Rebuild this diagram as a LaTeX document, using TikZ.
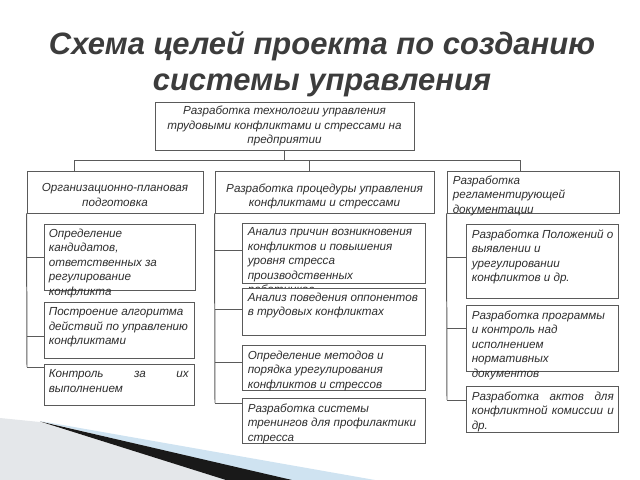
\documentclass[tikz,border=0pt]{standalone}
\usepackage{fontspec}
\setmainfont{Liberation Sans}
\usetikzlibrary{fit}
\definecolor{linec}{HTML}{5A5A5A}
\definecolor{textc}{HTML}{2E2E2E}
\definecolor{titlec}{HTML}{3C3C3C}
\definecolor{swblue}{HTML}{CFE3F1}
\definecolor{swgray}{HTML}{E4E7EA}
\tikzset{
  box/.style={draw=linec, line width=0.7pt, fill=white, inner sep=0pt},
  txt/.style={font=\fontsize{8.3}{10.3}\selectfont\itshape, text=textc, inner sep=0pt},
  conn/.style={draw=linec, line width=0.7pt},
  ttl/.style={font=\fontsize{22}{23}\selectfont\bfseries\itshape, text=titlec, inner sep=0pt, align=center}
}
\begin{document}
\begin{tikzpicture}[x=0.025cm, y=-0.025cm]
\useasboundingbox (0,0) rectangle (640,480);
% decoration
\fill[swgray] (0,418) -- (40,422) -- (228,480) -- (0,480) -- cycle;
\fill[swblue] (40,421) -- (375,480) -- (288,480) -- cycle;
\fill[black!90] (40,421.5) -- (292,480) -- (226,480) -- cycle;
% title
\node[ttl] (title) at (322,64) {Схема целей проекта по созданию\\[3pt]системы управления};
% top
\node[box, fit={(155,102) (414,150)}] (T) {};
\node[txt, align=center] (Tt) at (T.center) {Разработка технологии управления\\трудовыми конфликтами и стрессами на\\предприятии};
% level 2
\node[box, fit={(27,171) (203,213)}] (A2) {};
\node[txt, align=center] (A2t) at ([yshift=-2]A2.center) {Организационно-плановая\\подготовка};
\node[box, fit={(215,171) (434,213)}] (B2) {};
\node[txt, align=center] (B2t) at ([yshift=-3]B2.center) {Разработка процедуры управления\\конфликтами и стрессами};
\node[box, fit={(447,171) (619,213)}] (C2) {};
\node[txt, align=left, anchor=north west] (C2t) at ([shift={(6,5)}]C2.north west) {Разработка\\регламентирующей\\документации};
% connectors top
\coordinate (hL) at (74,160);
\coordinate (hM) at (309,160);
\coordinate (hR) at (520,160);
\draw[conn] (T.south) -- (T.south |- hL);
\draw[conn] (A2.north -| hL) -- (hL) -- (hR) -- (C2.north -| hR);
\draw[conn] (hM) -- (B2.north -| hM);
% left column
\draw[conn] (A2.south west) -- (27,367);
\draw[conn] (27,257) -- (44,257);
\draw[conn] (27,336) -- (44,336);
\draw[conn] (27,367) -- (44,367);
\node[box, fit={(44,224) (195,290)}] (LA) {};
\node[txt, align=left, anchor=north west] (LAt) at ([shift={(5,5)}]LA.north west) {Определение\\кандидатов,\\ответственных за\\регулирование\\конфликта};
\node[box, fit={(44,302) (194,358)}] (LB) {};
\node[txt, align=left, anchor=north west] (LBt) at ([shift={(5,6)}]LB.north west) {Построение алгоритма\\действий по управлению\\конфликтами};
\node[box, fit={(44,364) (194,405)}] (LC) {};
\node[txt, align=left, anchor=north west, text width=3.5cm] (LCt) at ([shift={(5,6)}]LC.north west) {Контроль\hfill за\hfill их\\выполнением};
% middle column
\draw[conn] (B2.south west) -- (215,403);
\draw[conn] (215,250) -- (242,250);
\draw[conn] (215,309) -- (242,309);
\draw[conn] (215,362) -- (242,362);
\draw[conn] (215,403) -- (242,403);
\node[box, fit={(242,223) (425,283)}] (MA) {};
\node[txt, align=left, anchor=north west] (MAt) at ([shift={(6,5)}]MA.north west) {Анализ причин возникновения\\конфликтов и повышения\\уровня стресса\\производственных\\работников};
\node[box, fit={(242,288) (425,335)}] (MB) {};
\node[txt, align=left, anchor=north west] (MBt) at ([shift={(6,5)}]MB.north west) {Анализ поведения оппонентов\\в трудовых конфликтах};
\node[box, fit={(242,345) (425,390)}] (MC) {};
\node[txt, align=left, anchor=north west] (MCt) at ([shift={(6,6)}]MC.north west) {Определение методов и\\порядка урегулирования\\конфликтов и стрессов};
\node[box, fit={(242,398) (425,443)}] (MD) {};
\node[txt, align=left, anchor=north west] (MDt) at ([shift={(6,6)}]MD.north west) {Разработка системы\\тренингов для профилактики\\стресса};
% right column
\draw[conn] (C2.south west) -- (447,400);
\draw[conn] (447,257) -- (466,257);
\draw[conn] (447,328) -- (466,328);
\draw[conn] (447,400) -- (466,400);
\node[box, fit={(466,224) (618,298)}] (RA) {};
\node[txt, align=left, anchor=north west] (RAt) at ([shift={(6,6)}]RA.north west) {Разработка Положений о\\выявлении и\\урегулировании\\конфликтов и др.};
\node[box, fit={(466,305) (618,371)}] (RB) {};
\node[txt, align=left, anchor=north west] (RBt) at ([shift={(6,6)}]RB.north west) {Разработка программы\\и контроль над\\исполнением\\нормативных\\документов};
\node[box, fit={(466,386) (618,432)}] (RC) {};
\node[txt, align=left, anchor=north west, text width=3.55cm] (RCt) at ([shift={(6,6)}]RC.north west) {Разработка\hfill актов\hfill для\\конфликтной\hfill комиссии\hfill и\\др.};
\end{tikzpicture}
\end{document}
